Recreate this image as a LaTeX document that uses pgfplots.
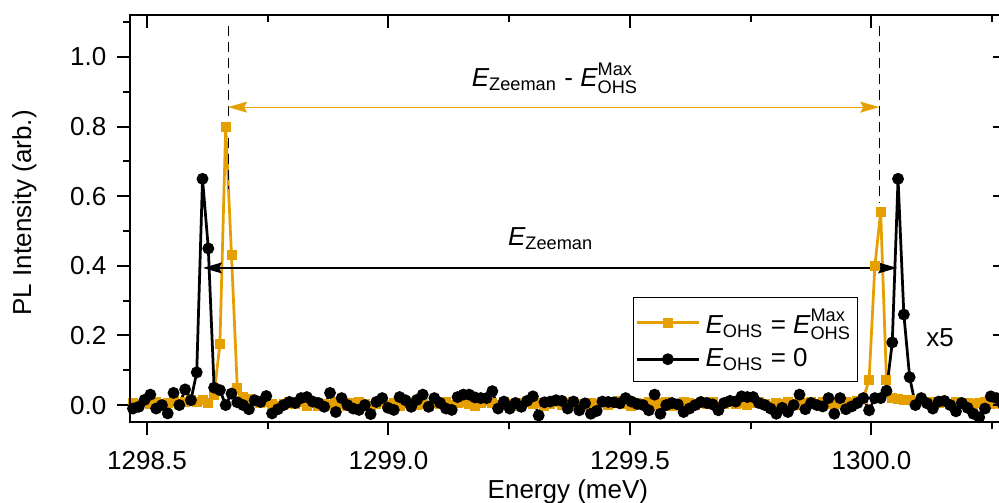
\documentclass[border=0pt]{standalone}
\usepackage{fontspec}
\setmainfont{Liberation Sans}
\usepackage{amsmath}
\usepackage{pgfplots}
\pgfplotsset{compat=1.18}
\usepackage{pgfplotstable}
\usetikzlibrary{arrows.meta}
\definecolor{ohsorange}{RGB}{230,159,0}
\newcommand{\fs}{\fontsize{10.4}{12.5}\selectfont}

% energy (meV), PL at E_OHS = E_OHS^Max, PL at E_OHS = 0
\pgfplotstableread{
E ohs zero
1298.471 0.005 -0.010
1298.483 0.000 -0.005
1298.495 0.008 0.015
1298.507 0.004 0.030
1298.519 0.010 -0.010
1298.531 0.002 0.000
1298.543 0.006 -0.024
1298.555 0.012 0.035
1298.567 0.004 0.000
1298.579 0.010 0.045
1298.591 0.014 0.014
1298.603 0.008 0.094
1298.615 0.014 0.650
1298.627 0.005 0.450
1298.639 0.030 0.050
1298.651 0.175 0.043
1298.663 0.800 0.000
1298.675 0.430 0.033
1298.687 0.050 0.008
1298.699 0.022 0.000
1298.711 0.018 -0.012
1298.723 0.012 0.014
1298.735 0.006 0.009
1298.747 0.010 0.026
1298.759 0.002 -0.024
1298.771 -0.004 -0.012
1298.783 0.004 0.000
1298.795 0.008 0.009
1298.807 0.002 0.006
1298.819 0.010 0.020
1298.831 -0.002 0.023
1298.843 0.006 0.010
1298.855 -0.004 0.006
1298.867 0.004 -0.005
1298.879 0.000 0.035
1298.891 0.008 -0.020
1298.903 0.002 0.020
1298.915 -0.002 0.000
1298.927 0.006 -0.010
1298.939 0.010 -0.014
1298.951 0.003 0.000
1298.963 -0.004 -0.026
1298.975 0.004 0.009
1298.987 0.008 0.020
1298.999 0.001 -0.008
1299.011 0.006 -0.014
1299.023 -0.003 0.023
1299.035 0.005 0.014
1299.047 0.009 -0.005
1299.059 0.000 0.015
1299.071 0.004 0.030
1299.083 -0.003 -0.005
1299.095 0.006 0.020
1299.107 0.002 0.006
1299.119 0.008 -0.010
1299.131 0.000 -0.014
1299.143 0.005 0.023
1299.155 0.010 0.030
1299.167 0.004 0.030
1299.179 -0.002 0.022
1299.191 0.006 0.020
1299.203 0.012 0.020
1299.215 0.005 0.040
1299.227 0.000 -0.010
1299.239 0.008 0.010
1299.251 0.003 -0.010
1299.263 -0.003 0.006
1299.275 0.006 -0.005
1299.287 0.010 0.012
1299.299 0.002 0.025
1299.311 0.007 -0.030
1299.323 -0.002 0.008
1299.335 0.004 0.010
1299.347 0.009 0.014
1299.359 0.000 0.012
1299.371 0.005 -0.010
1299.383 0.010 0.010
1299.395 0.003 -0.015
1299.407 -0.003 0.005
1299.419 0.006 -0.025
1299.431 0.002 -0.017
1299.443 0.008 0.010
1299.455 0.000 0.009
1299.467 0.005 0.008
1299.479 0.011 0.005
1299.491 0.004 0.020
1299.503 -0.002 0.010
1299.515 0.006 0.003
1299.527 0.003 0.000
1299.539 0.009 -0.015
1299.551 0.000 0.030
1299.563 0.005 -0.025
1299.575 0.008 0.000
1299.587 -0.002 0.006
1299.599 0.004 0.002
1299.611 0.010 -0.020
1299.623 0.006 -0.010
1299.635 0.000 0.000
1299.647 0.007 0.009
1299.659 0.003 0.006
1299.671 0.009 0.002
1299.683 -0.003 -0.015
1299.695 0.004 0.006
1299.707 0.008 0.012
1299.719 0.002 0.010
1299.731 0.006 0.025
1299.743 0.000 0.023
1299.755 0.005 0.023
1299.767 0.010 0.006
1299.779 0.003 0.000
1299.791 -0.002 -0.010
1299.803 0.006 -0.025
1299.815 0.002 -0.008
1299.827 0.008 -0.020
1299.839 0.004 0.000
1299.851 0.000 0.030
1299.863 0.006 -0.012
1299.875 0.010 0.006
1299.887 0.004 0.000
1299.899 0.008 -0.004
1299.911 0.002 0.020
1299.923 0.007 -0.025
1299.935 0.004 0.020
1299.947 0.009 -0.012
1299.959 0.006 -0.004
1299.971 0.012 0.006
1299.983 0.018 0.020
1299.995 0.072 -0.015
1300.007 0.400 0.020
1300.019 0.555 0.020
1300.031 0.072 0.041
1300.043 0.020 0.180
1300.055 0.018 0.650
1300.067 0.015 0.260
1300.079 0.014 0.080
1300.091 0.010 0.000
1300.103 0.012 0.020
1300.115 0.008 0.005
1300.127 0.010 -0.010
1300.139 0.006 0.010
1300.151 0.009 0.012
1300.163 0.004 0.000
1300.175 0.008 -0.018
1300.187 0.003 0.006
1300.199 0.006 -0.008
1300.211 0.002 -0.025
1300.223 0.005 -0.035
1300.235 0.008 -0.010
1300.247 0.003 0.025
1300.259 0.006 0.020
1300.271 0.004 0.005
}\spectra

\pgfplotsset{
  frame/.style={
    width=350.3pt, height=162.9pt, scale only axis,
    xmin=1298.465, xmax=1300.278, ymin=-0.05, ymax=1.12,
    xtick={1298.5,1299,1299.5,1300},
    minor xtick={1298.75,1299.25,1299.75,1300.25},
    ytick={0,0.2,0.4,0.6,0.8,1.0},
    minor ytick={0.1,0.3,0.5,0.7,0.9,1.1},
    major tick length=5.2pt, minor tick length=2.8pt,
    axis line style={line width=0.8pt},
    every tick/.style={line width=0.8pt, black},
    tick label style={font=\fs},
    label style={font=\fs},
    /pgf/number format/.cd, fixed, fixed zerofill, precision=1,
      1000 sep={}, assume math mode=true,
  }
}

\begin{document}
\begin{tikzpicture}
\begin{axis}[
  frame,
  tick align=outside,
  xtick pos=left, ytick pos=left,
  xticklabel shift=2.8pt, yticklabel shift=0.8pt,
  xlabel={Energy (meV)},
  ylabel={PL Intensity (arb.)},
  xlabel style={at={(axis description cs:0.5,-0.1857)}, anchor=base},
  ylabel style={at={(axis description cs:-0.113,0.515)}, anchor=base},
  legend style={at={(axis description cs:0.8312,0.308)}, anchor=north east,
    draw=black, line width=0.4pt, font=\fs, inner xsep=0.5pt, inner ysep=2.5pt,
    row sep=0.6pt, cells={anchor=west}},
  legend cell align=left,
  legend image code/.code={\draw[mark repeat=2,mark phase=2]
    plot coordinates {(0cm,0cm) (0.44cm,0cm) (0.88cm,0cm)};},
]
\addplot[ohsorange, line width=1.1pt, mark=square*, mark size=1.45pt]
  table[x=E, y=ohs] {\spectra};
\addlegendentry{$\textit{E}_{\text{OHS}}$ = $\textit{E}^{\text{Max}}_{\text{OHS}}$}
\addplot[black, line width=1.1pt, mark=*, mark size=1.8pt]
  table[x=E, y=zero] {\spectra};
\addlegendentry{$\textit{E}_{\text{OHS}}$ = 0}

\draw[black, line width=0.45pt, dash pattern=on 4pt off 2.4pt]
  (axis cs:1298.668,1.09) -- (axis cs:1298.668,0.62);
\draw[black, line width=0.45pt, dash pattern=on 4pt off 2.4pt]
  (axis cs:1300.016,1.09) -- (axis cs:1300.016,0.58);
\draw[ohsorange, line width=0.5pt,
  {Stealth[length=7.6pt,width=4.4pt,inset=1.2pt]}-{Stealth[length=7.6pt,width=4.4pt,inset=1.2pt]}]
  (axis cs:1298.668,0.856) -- (axis cs:1300.016,0.856);
\draw[black, line width=0.5pt,
  {Stealth[length=7.6pt,width=4.4pt,inset=1.2pt]}-{Stealth[length=7.6pt,width=4.4pt,inset=1.2pt]}]
  (axis cs:1298.616,0.394) -- (axis cs:1300.053,0.394);
\node[anchor=base, font=\fs] at (axis cs:1299.345,0.914)
  {$\textit{E}_{\text{Zeeman}}$ - $\textit{E}^{\text{Max}}_{\text{OHS}}$};
\node[anchor=base, font=\fs] at (axis cs:1299.336,0.458)
  {$\textit{E}_{\text{Zeeman}}$};
\node[anchor=base, font=\fs] at (axis cs:1300.142,0.167) {x5};

\coordinate (bbll) at (axis cs:1298.1957,-0.2787);
\coordinate (bbur) at (axis cs:1300.264,1.1638);
\end{axis}
\begin{axis}[
  frame,
  tick align=inside,
  xtick pos=right, ytick pos=right,
  xticklabels={}, yticklabels={},
]
\end{axis}
\pgfresetboundingbox
\useasboundingbox (bbll) rectangle (bbur);
\end{tikzpicture}
\end{document}
